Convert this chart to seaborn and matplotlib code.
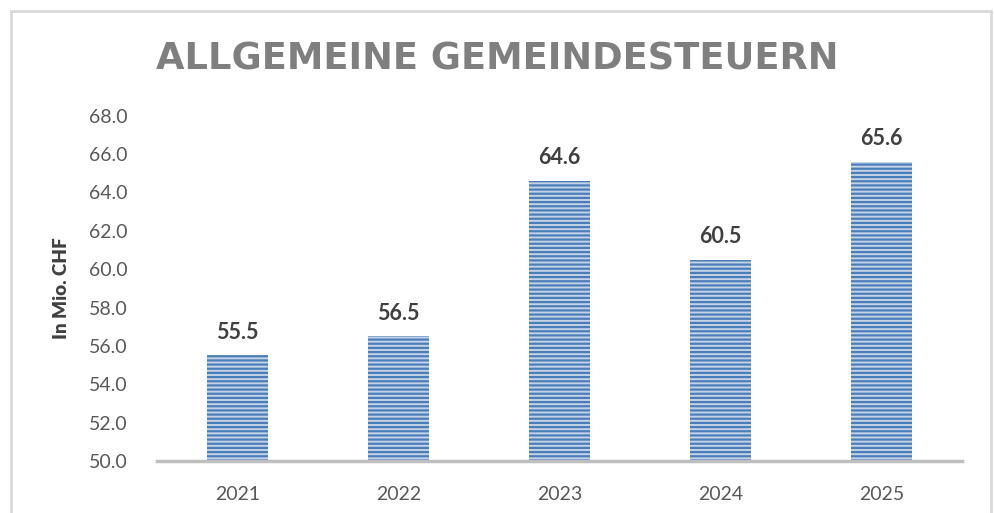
import matplotlib
matplotlib.use("Agg")
import matplotlib.pyplot as plt
import seaborn as sns
from matplotlib.patches import Rectangle

years = ["2021", "2022", "2023", "2024", "2025"]
values = [55.5, 56.5, 64.6, 60.5, 65.6]
yticks = [50, 52, 54, 56, 58, 60, 62, 64, 66, 68]

sns.set_theme(style="white")
plt.rcParams["font.family"] = ["Lato", "DejaVu Sans"]
plt.rcParams["hatch.linewidth"] = 1.6

fig = plt.figure(figsize=(9.94, 5.13), dpi=100)
ax = fig.add_axes([0.158, 0.1014, 0.810, 0.673])

sns.barplot(x=years, y=values, width=0.38, color="#bfd2eb", ax=ax,
            edgecolor="#4a7ebb", linewidth=0)
for p in ax.patches:
    p.set_hatch("----")
    p.set_edgecolor("#4a7ebb")
    p.set_linewidth(0)

ax.set_ylim(50, 68)
ax.set_xlim(-0.5, 4.5)
ax.set_yticks(yticks)
ax.set_yticklabels([f"{v:.1f}" for v in yticks])
ax.tick_params(axis="both", length=0, labelsize=14, labelcolor="#595959")
ax.tick_params(axis="y", pad=21)
ax.tick_params(axis="x", pad=18)

for s in ["top", "right", "left"]:
    ax.spines[s].set_visible(False)
ax.spines["bottom"].set_color("#bfbfbf")
ax.spines["bottom"].set_linewidth(2.5)

ax.bar_label(ax.containers[0], labels=[f"{v:.1f}" for v in values],
             padding=9, fontsize=15.5, fontweight="bold", color="#404040")

ax.set_ylabel("In Mio. CHF", fontsize=13.5, fontweight="heavy", color="#404040", labelpad=14)
ax.set_xlabel("")

fig.text(0.5, 0.885, "ALLGEMEINE GEMEINDESTEUERN", ha="center", va="center",
         fontsize=26.5, fontweight="bold", color="#7f7f7f", family="DejaVu Sans")

fig.patches.append(Rectangle((11 / 994, -0.05), 980 / 994, 1.05 - 11 / 513,
                             transform=fig.transFigure, fill=False,
                             edgecolor="#d9d9d9", linewidth=2))

fig.savefig("out.png", dpi=100)
